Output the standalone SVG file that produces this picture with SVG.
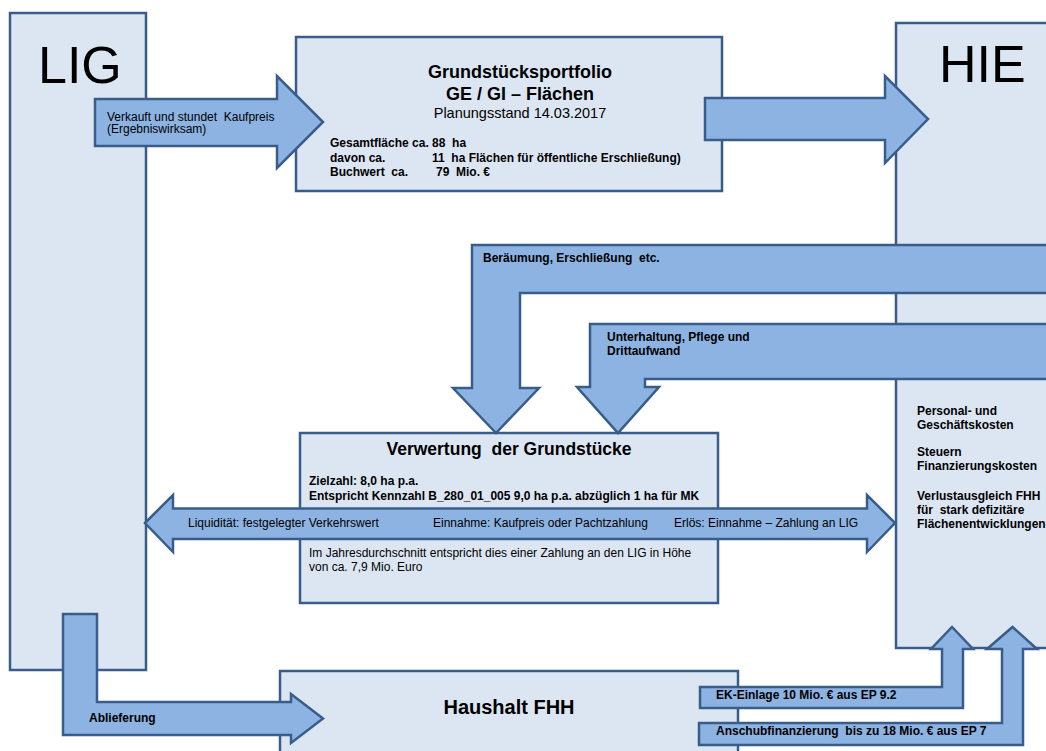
<svg xmlns="http://www.w3.org/2000/svg" width="1046" height="751" viewBox="0 0 1046 751">
<style>
.box{fill:#dce6f2;stroke:#385d8a;stroke-width:2.5}
.arr{fill:#8db3e2;stroke:#385d8a;stroke-width:2.5;stroke-linejoin:miter}
text{font-family:"Liberation Sans",Arial,sans-serif;fill:#000;white-space:pre}
.big{font-size:52px}
.t{font-size:18px;font-weight:bold}
.b{font-size:12px;font-weight:bold}
.r{font-size:12px}
.c{text-anchor:middle}
</style>
<rect width="1046" height="751" fill="#fff"/>
<g id="lig"><rect class="box" x="10" y="13" width="136" height="657"/><text class="big" x="38" y="83">LIG</text></g>
<g id="hie"><rect class="box" x="896" y="23" width="170" height="625"/><text class="big" x="939" y="82">HIE</text>
<text class="b" x="917" y="415">Personal- und</text>
<text class="b" x="917" y="429">Geschäftskosten</text>
<text class="b" x="917" y="456">Steuern</text>
<text class="b" x="917" y="470">Finanzierungskosten</text>
<text class="b" x="917" y="500">Verlustausgleich FHH</text>
<text class="b" x="917" y="514" xml:space="preserve">für  stark defizitäre</text>
<text class="b" x="917" y="528">Flächenentwicklungen</text></g>
<g id="portfolio"><rect class="box" x="296" y="37" width="426" height="154"/>
<text class="t c" x="520" y="78">Grundstücksportfolio</text>
<text class="t c" x="520" y="100">GE / GI – Flächen</text>
<text class="c" x="520" y="118" font-size="14.5">Planungsstand 14.03.2017</text>
<text class="b" x="330" y="147" xml:space="preserve">Gesamtfläche ca. 88  ha</text>
<text class="b" x="330" y="162">davon ca.</text><text class="b" x="432" y="162" xml:space="preserve">11  ha Flächen für öffentliche Erschließung)</text>
<text class="b" x="330" y="176" xml:space="preserve">Buchwert  ca.</text><text class="b" x="436" y="176" xml:space="preserve">79  Mio. €</text></g>
<g id="verwertung"><rect class="box" x="300" y="433" width="418" height="170"/>
<text class="c" x="509" y="455" font-size="17.5" font-weight="bold" xml:space="preserve">Verwertung  der Grundstücke</text>
<text class="b" x="309" y="485">Zielzahl: 8,0 ha p.a.</text>
<text class="b" x="309" y="500">Entspricht Kennzahl B_280_01_005 9,0 ha p.a. abzüglich 1 ha für MK</text>
<text class="r" x="309" y="557">Im Jahresdurchschnitt entspricht dies einer Zahlung an den LIG in Höhe</text>
<text class="r" x="309" y="571">von ca. 7,9 Mio. Euro</text></g>
<g id="haushalt"><rect class="box" x="280" y="671" width="458" height="100"/>
<text class="c" x="509" y="714" font-size="20" font-weight="bold">Haushalt FHH</text></g>
<g id="connectors">
<polygon class="arr" points="95,99 277,99 277,76 323,122 277,168 277,146 95,146"/>
<text class="r" x="107" y="121" xml:space="preserve">Verkauft und stundet  Kaufpreis</text>
<text class="r" x="107" y="133">(Ergebniswirksam)</text>
<polygon class="arr" points="705,98 885,98 885,76 928,119 885,163 885,140 705,140"/>
<polygon class="arr" points="1060,245 472,245 472,388 453,388 496,433 539,388 520,388 520,293 1060,293"/>
<text class="b" x="483" y="262" xml:space="preserve">Beräumung, Erschließung  etc.</text>
<polygon class="arr" points="1060,324 590,324 590,387 577,387 618,433 659,387 645,387 645,379 1060,379"/>
<text class="b" x="607" y="341">Unterhaltung, Pflege und</text>
<text class="b" x="607" y="355">Drittaufwand</text>
<polygon class="arr" points="145,523 173,495 173,508.5 867,508.5 867,495 895,523 867,552 867,539 173,539 173,552"/>
<text class="r" x="188" y="527">Liquidität: festgelegter Verkehrswert</text>
<text class="r" x="433" y="527">Einnahme: Kaufpreis oder Pachtzahlung</text>
<text class="r" x="674" y="527">Erlös: Einnahme – Zahlung an LIG</text>
<polygon class="arr" points="63,614 97,614 97,702 291,702 291,694 323,718.5 291,743 291,735 63,735"/>
<text class="b" x="89" y="722">Ablieferung</text>
<polygon class="arr" points="700,687 942,687 942,649 931,649 952,627 973,649 963,649 963,708 700,708"/>
<text class="b" x="716" y="699">EK-Einlage 10 Mio. € aus EP 9.2</text>
<polygon class="arr" points="699,723 1002,723 1002,649 987,649 1012.5,627 1037,649 1023,649 1023,745 699,745"/>
<text class="b" x="716" y="735" xml:space="preserve">Anschubfinanzierung  bis zu 18 Mio. € aus EP 7</text>
</g>
</svg>
